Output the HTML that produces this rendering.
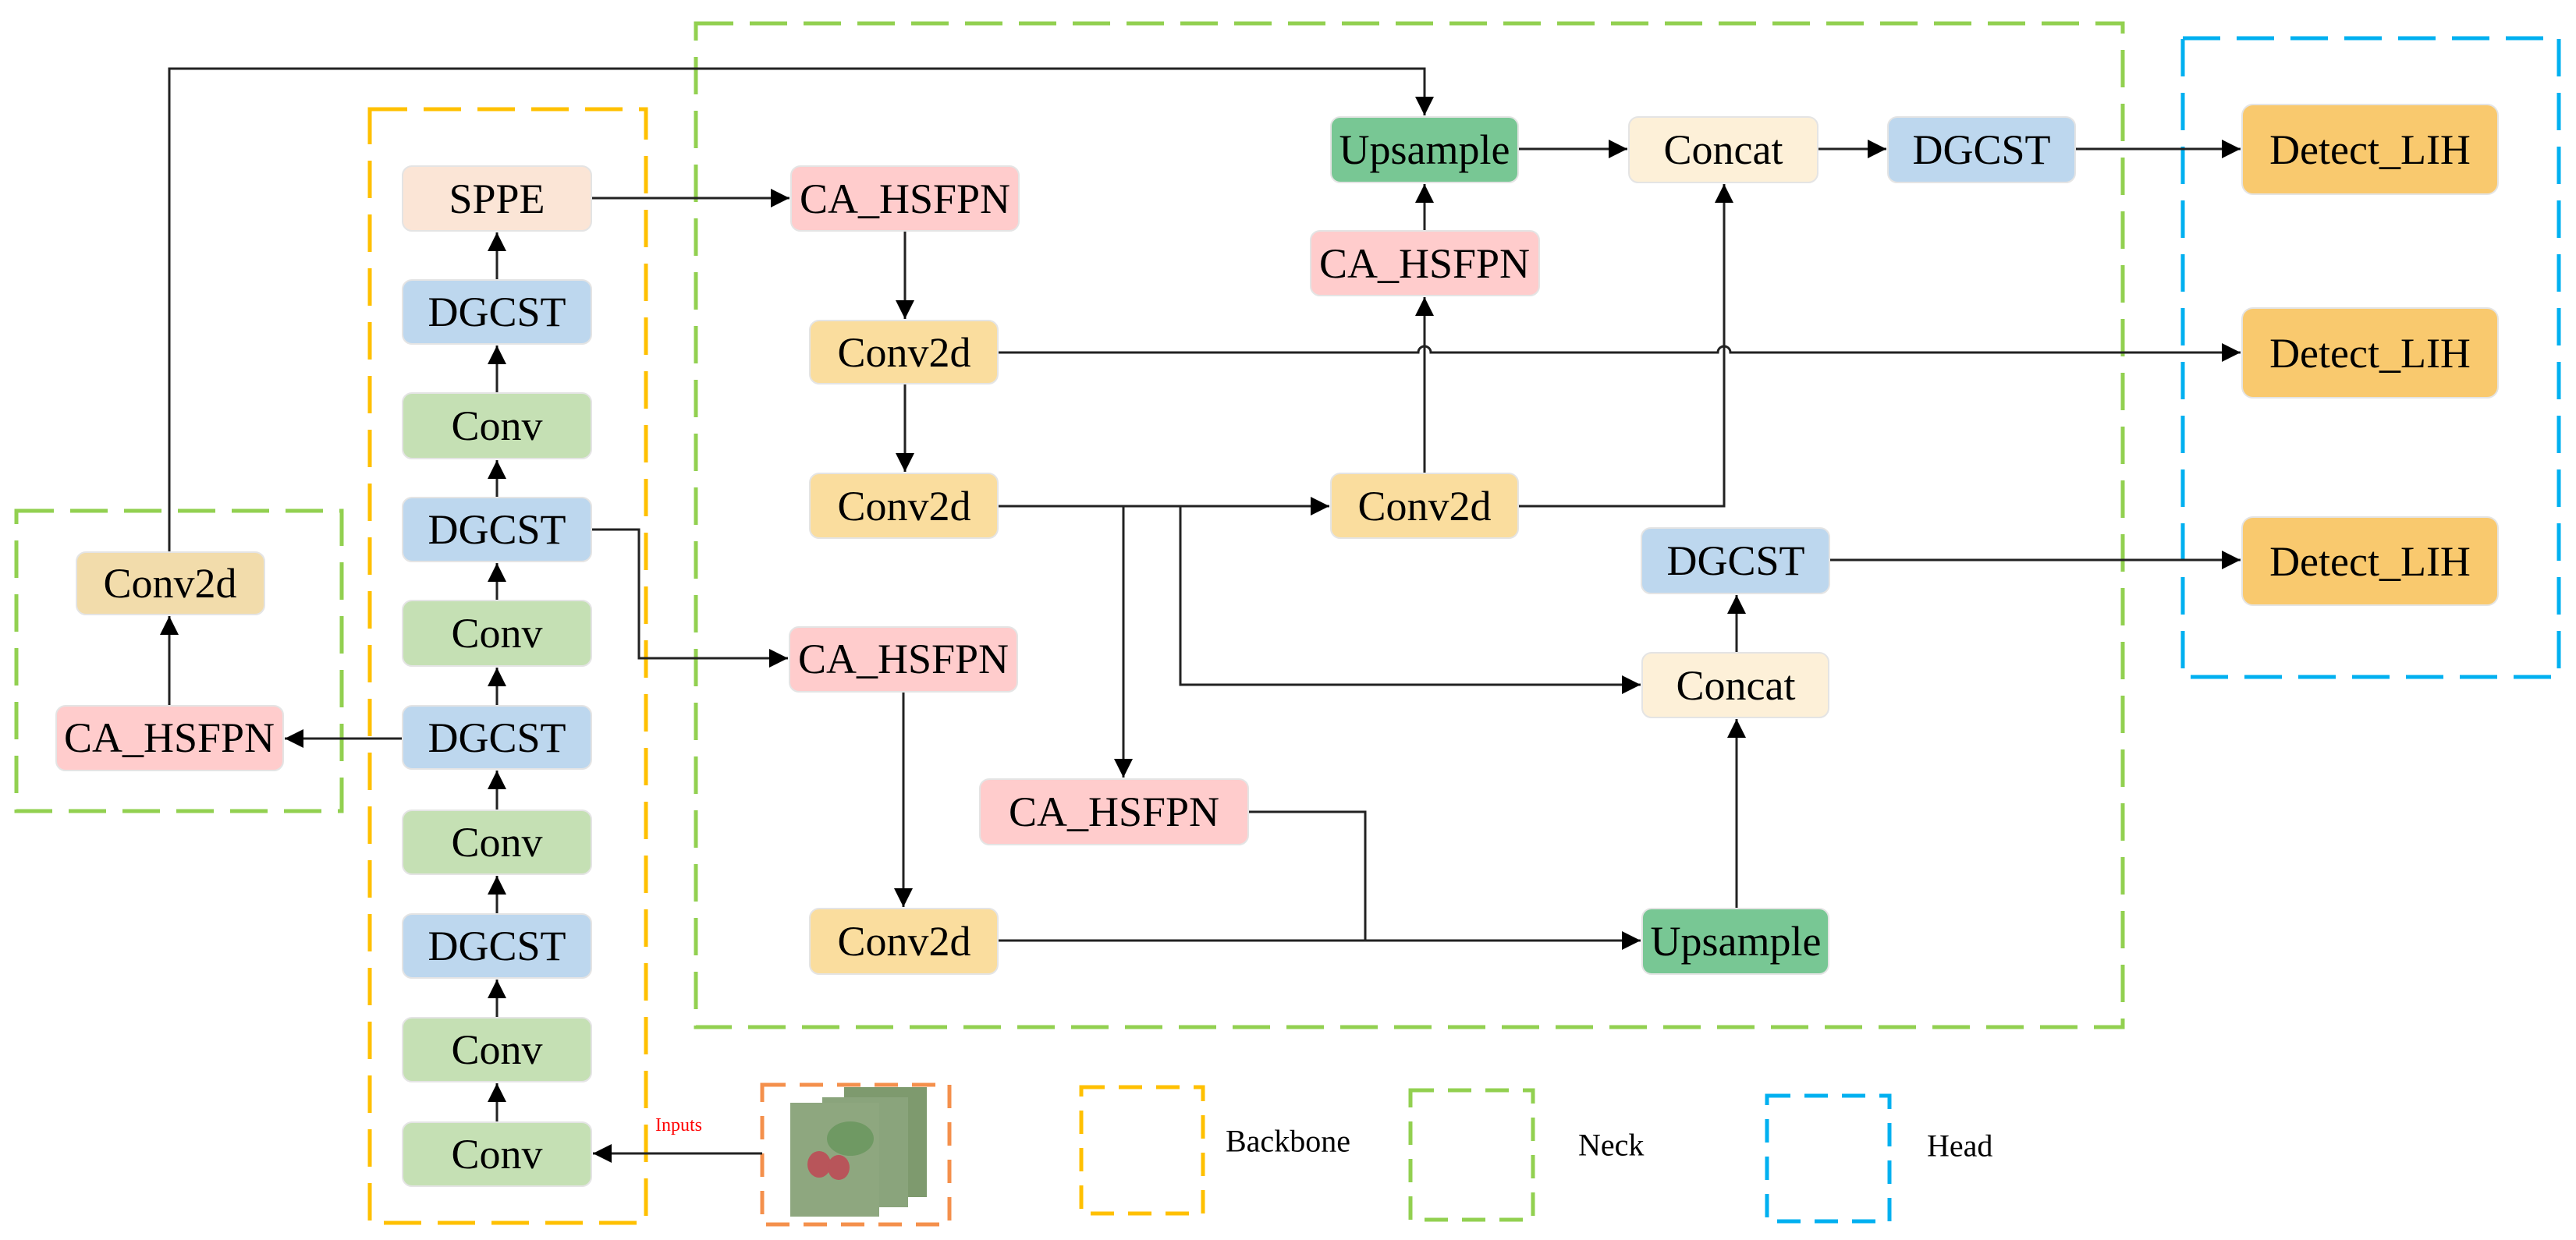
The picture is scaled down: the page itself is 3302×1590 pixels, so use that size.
<!DOCTYPE html>
<html><head><meta charset="utf-8"><style>
html,body{margin:0;padding:0;background:#fff;}
svg{display:block;}
svg text{font-family:"Liberation Serif","Times New Roman",serif;}
</style></head><body>
<svg width="3302" height="1590" viewBox="0 0 3302 1590" xmlns="http://www.w3.org/2000/svg" font-family="Liberation Serif, Times New Roman, serif">
<defs>
<marker id="a" viewBox="0 0 10 10" refX="10" refY="5" markerWidth="30" markerHeight="24" markerUnits="userSpaceOnUse" orient="auto"><path d="M0,0 L10,5 L0,10 z" fill="#000"/></marker>
</defs>
<g fill="none" stroke-width="5" stroke-dasharray="48 21">
<rect x="474" y="140" width="354" height="1428" stroke="#ffc000"/>
<rect x="892" y="30" width="1829" height="1287" stroke="#92d050"/>
<rect x="21" y="655" width="417" height="385" stroke="#92d050"/>
<rect x="2798" y="49" width="482" height="819" stroke="#00b0f0"/>
<rect x="977" y="1391" width="240" height="179" stroke="#f4904c" stroke-dasharray="30 18"/>
<rect x="1386" y="1394" width="156" height="162" stroke="#ffc000" stroke-dasharray="30 18"/>
<rect x="1808" y="1398" width="157" height="166" stroke="#92d050" stroke-dasharray="30 18"/>
<rect x="2265" y="1405" width="157" height="161" stroke="#00b0f0" stroke-dasharray="30 18"/>
</g>
<rect x="1082" y="1394" width="106" height="141" fill="#7e9a6e"/>
<rect x="1054" y="1407" width="110" height="141" fill="#8aa47c"/>
<rect x="1013" y="1414" width="114" height="146" fill="#8ea77f"/>
<ellipse cx="1050" cy="1493" rx="15" ry="17" fill="#b8555a"/>
<ellipse cx="1075" cy="1497" rx="14" ry="16" fill="#b8555a"/>
<ellipse cx="1090" cy="1460" rx="30" ry="22" fill="#6f9963"/>
<g fill="none" stroke="#222" stroke-width="3">
<polyline points="217,708 217,88 1826,88 1826,148" marker-end="url(#a)"/>
<line x1="217" y1="905" x2="217" y2="790" marker-end="url(#a)"/>
<line x1="637" y1="1439" x2="637" y2="1389" marker-end="url(#a)"/>
<line x1="637" y1="1305" x2="637" y2="1256" marker-end="url(#a)"/>
<line x1="637" y1="1172" x2="637" y2="1123" marker-end="url(#a)"/>
<line x1="637" y1="1039" x2="637" y2="988" marker-end="url(#a)"/>
<line x1="637" y1="905" x2="637" y2="856" marker-end="url(#a)"/>
<line x1="637" y1="770" x2="637" y2="722" marker-end="url(#a)"/>
<line x1="637" y1="638" x2="637" y2="590" marker-end="url(#a)"/>
<line x1="637" y1="504" x2="637" y2="443" marker-end="url(#a)"/>
<line x1="637" y1="359" x2="637" y2="298" marker-end="url(#a)"/>
<line x1="758" y1="254" x2="1012" y2="254" marker-end="url(#a)"/>
<polyline points="758,679 819,679 819,844 1010,844" marker-end="url(#a)"/>
<line x1="516" y1="947" x2="365" y2="947" marker-end="url(#a)"/>
<line x1="977" y1="1479" x2="760" y2="1479" marker-end="url(#a)"/>
<line x1="1160" y1="296" x2="1160" y2="409" marker-end="url(#a)"/>
<line x1="1160" y1="492" x2="1160" y2="605" marker-end="url(#a)"/>
<path d="M1279,452 H1818 A8,8 0 0 1 1834,452 H2202 A8,8 0 0 1 2218,452 H2872" marker-end="url(#a)"/>
<line x1="1279" y1="649" x2="1704" y2="649" marker-end="url(#a)"/>
<line x1="1440" y1="649" x2="1440" y2="997" marker-end="url(#a)"/>
<polyline points="1513,649 1513,878 2103,878" marker-end="url(#a)"/>
<line x1="1826" y1="607" x2="1826" y2="381" marker-end="url(#a)"/>
<line x1="1826" y1="296" x2="1826" y2="236" marker-end="url(#a)"/>
<polyline points="1946,649 2210,649 2210,236" marker-end="url(#a)"/>
<line x1="1946" y1="191" x2="2086" y2="191" marker-end="url(#a)"/>
<line x1="2330" y1="191" x2="2418" y2="191" marker-end="url(#a)"/>
<line x1="2660" y1="191" x2="2872" y2="191" marker-end="url(#a)"/>
<line x1="2345" y1="718" x2="2872" y2="718" marker-end="url(#a)"/>
<line x1="1158" y1="887" x2="1158" y2="1163" marker-end="url(#a)"/>
<line x1="1279" y1="1206" x2="2103" y2="1206" marker-end="url(#a)"/>
<polyline points="1600,1041 1750,1041 1750,1206"/>
<line x1="2226" y1="1165" x2="2226" y2="922" marker-end="url(#a)"/>
<line x1="2226" y1="837" x2="2226" y2="763" marker-end="url(#a)"/>
</g>
<g stroke="#e4e4e4" stroke-width="2" font-size="54" text-anchor="middle" dominant-baseline="central">
<rect x="516" y="213" width="242" height="83" rx="12" fill="#fbe5d6"/><text x="637" y="255" stroke="none">SPPE</text>
<rect x="516" y="359" width="242" height="82" rx="12" fill="#bdd7ee"/><text x="637" y="400" stroke="none">DGCST</text>
<rect x="516" y="504" width="242" height="84" rx="12" fill="#c5e0b4"/><text x="637" y="546" stroke="none">Conv</text>
<rect x="516" y="638" width="242" height="82" rx="12" fill="#bdd7ee"/><text x="637" y="679" stroke="none">DGCST</text>
<rect x="516" y="770" width="242" height="84" rx="12" fill="#c5e0b4"/><text x="637" y="812" stroke="none">Conv</text>
<rect x="516" y="905" width="242" height="81" rx="12" fill="#bdd7ee"/><text x="637" y="946" stroke="none">DGCST</text>
<rect x="516" y="1039" width="242" height="82" rx="12" fill="#c5e0b4"/><text x="637" y="1080" stroke="none">Conv</text>
<rect x="516" y="1172" width="242" height="82" rx="12" fill="#bdd7ee"/><text x="637" y="1213" stroke="none">DGCST</text>
<rect x="516" y="1305" width="242" height="82" rx="12" fill="#c5e0b4"/><text x="637" y="1346" stroke="none">Conv</text>
<rect x="516" y="1439" width="242" height="82" rx="12" fill="#c5e0b4"/><text x="637" y="1480" stroke="none">Conv</text>
<rect x="98" y="708" width="241" height="80" rx="12" fill="#f2dcab"/><text x="218" y="748" stroke="none">Conv2d</text>
<rect x="72" y="905" width="291" height="83" rx="12" fill="#ffcccc"/><text x="217" y="946" stroke="none">CA_HSFPN</text>
<rect x="1014" y="213" width="292" height="83" rx="12" fill="#ffcccc"/><text x="1160" y="255" stroke="none">CA_HSFPN</text>
<rect x="1038" y="411" width="241" height="81" rx="12" fill="#fadd9e"/><text x="1159" y="452" stroke="none">Conv2d</text>
<rect x="1038" y="607" width="241" height="83" rx="12" fill="#fadd9e"/><text x="1159" y="649" stroke="none">Conv2d</text>
<rect x="1012" y="804" width="292" height="83" rx="12" fill="#ffcccc"/><text x="1158" y="845" stroke="none">CA_HSFPN</text>
<rect x="1256" y="999" width="344" height="84" rx="12" fill="#ffcccc"/><text x="1428" y="1041" stroke="none">CA_HSFPN</text>
<rect x="1038" y="1165" width="241" height="84" rx="12" fill="#fadd9e"/><text x="1159" y="1207" stroke="none">Conv2d</text>
<rect x="1706" y="150" width="240" height="84" rx="12" fill="#78c794"/><text x="1826" y="192" stroke="none">Upsample</text>
<rect x="1680" y="296" width="293" height="83" rx="12" fill="#ffcccc"/><text x="1826" y="338" stroke="none">CA_HSFPN</text>
<rect x="1706" y="607" width="240" height="83" rx="12" fill="#fadd9e"/><text x="1826" y="649" stroke="none">Conv2d</text>
<rect x="2088" y="150" width="242" height="84" rx="12" fill="#fdf0d8"/><text x="2209" y="192" stroke="none">Concat</text>
<rect x="2420" y="150" width="240" height="84" rx="12" fill="#bdd7ee"/><text x="2540" y="192" stroke="none">DGCST</text>
<rect x="2104" y="677" width="241" height="84" rx="12" fill="#bdd7ee"/><text x="2225" y="719" stroke="none">DGCST</text>
<rect x="2105" y="837" width="239" height="83" rx="12" fill="#fdf0d8"/><text x="2225" y="879" stroke="none">Concat</text>
<rect x="2105" y="1165" width="239" height="84" rx="12" fill="#78c794"/><text x="2225" y="1207" stroke="none">Upsample</text>
<rect x="2874" y="134" width="328" height="115" rx="14" fill="#f9c96e"/><text x="3038" y="192" stroke="none">Detect_LIH</text>
<rect x="2874" y="395" width="328" height="115" rx="14" fill="#f9c96e"/><text x="3038" y="453" stroke="none">Detect_LIH</text>
<rect x="2874" y="663" width="328" height="113" rx="14" fill="#f9c96e"/><text x="3038" y="720" stroke="none">Detect_LIH</text>
</g>
<text x="840" y="1443" font-size="24" fill="#ff0000" dominant-baseline="central">Inputs</text>
<g font-size="40" dominant-baseline="central">
<text x="1571" y="1463">Backbone</text>
<text x="2023" y="1468">Neck</text>
<text x="2470" y="1469">Head</text>
</g>
</svg>
</body></html>
